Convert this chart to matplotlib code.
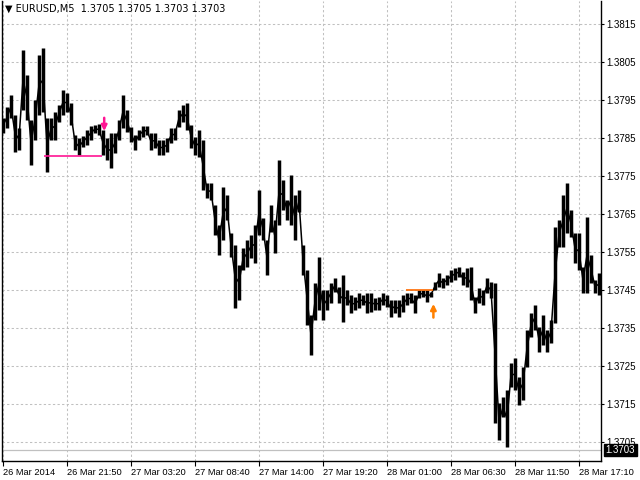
import numpy as np
import matplotlib.pyplot as plt
import matplotlib.transforms as mtransforms

# EURUSD M5 bars (high / low)
highs = [1.37903, 1.37932, 1.37963, 1.37911, 1.37876, 1.38082, 1.38016, 1.37897, 1.37950, 1.38068,
         1.38087, 1.37903, 1.37903, 1.37918, 1.37937, 1.37976, 1.37968, 1.37942, 1.37858, 1.37850,
         1.37855, 1.37871, 1.37882, 1.37884, 1.37887, 1.37871, 1.37850, 1.37863, 1.37863, 1.37897,
         1.37963, 1.37924, 1.37879, 1.37858, 1.37871, 1.37882, 1.37882,
         1.37863, 1.37863, 1.37845, 1.37845, 1.37850, 1.37876, 1.37876, 1.37924, 1.37937, 1.37942,
         1.37884, 1.37853, 1.37871, 1.37845, 1.37732, 1.37732, 1.37674, 1.37621, 1.37721, 1.37700,
         1.37600, 1.37569, 1.37516, 1.37561, 1.37582, 1.37595, 1.37621, 1.37713, 1.37640, 1.37582,
         1.37674, 1.37634, 1.37792, 1.37740, 1.37687, 1.37753, 1.37700, 1.37713,
         1.37569, 1.37503, 1.37385, 1.37469, 1.37537, 1.37450, 1.37450, 1.37469, 1.37482, 1.37458,
         1.37490, 1.37450, 1.37437, 1.37432, 1.37442, 1.37437, 1.37442, 1.37442, 1.37429, 1.37432,
         1.37442, 1.37437, 1.37424, 1.37424, 1.37424, 1.37437, 1.37442, 1.37442, 1.37437, 1.37450,
         1.37450, 1.37450, 1.37445, 1.37471, 1.37495, 1.37482, 1.37490,
         1.37503, 1.37508, 1.37511, 1.37498, 1.37508, 1.37511, 1.37432, 1.37456, 1.37450, 1.37482,
         1.37471, 1.37469, 1.37153, 1.37169, 1.37187, 1.37258, 1.37272, 1.37222, 1.37248, 1.37345,
         1.37390, 1.37411, 1.37353, 1.37385, 1.37345, 1.37371, 1.37616, 1.37634, 1.37700, 1.37732,
         1.37661, 1.37600, 1.37600, 1.37511, 1.37642, 1.37542, 1.37477, 1.37495]
lows = [1.37863, 1.37876, 1.37903, 1.37813, 1.37819, 1.37924, 1.37897, 1.37779, 1.37845, 1.37911,
        1.37918, 1.37761, 1.37845, 1.37845, 1.37892, 1.37911, 1.37918, 1.37884, 1.37819, 1.37805,
        1.37826, 1.37832, 1.37845, 1.37863, 1.37858, 1.37805, 1.37792, 1.37771, 1.37811, 1.37845,
        1.37876, 1.37866, 1.37840, 1.37819, 1.37845, 1.37853, 1.37858,
        1.37819, 1.37824, 1.37805, 1.37805, 1.37813, 1.37837, 1.37845, 1.37879, 1.37892, 1.37871,
        1.37824, 1.37805, 1.37800, 1.37713, 1.37692, 1.37687, 1.37595, 1.37542, 1.37582, 1.37634,
        1.37537, 1.37403, 1.37424, 1.37503, 1.37511, 1.37535, 1.37521, 1.37595, 1.37582, 1.37490,
        1.37603, 1.37548, 1.37621, 1.37661, 1.37634, 1.37621, 1.37582, 1.37655,
        1.37490, 1.37358, 1.37279, 1.37371, 1.37398, 1.37371, 1.37398, 1.37416, 1.37445, 1.37416,
        1.37366, 1.37411, 1.37390, 1.37398, 1.37403, 1.37411, 1.37390, 1.37392, 1.37398, 1.37398,
        1.37411, 1.37406, 1.37379, 1.37390, 1.37379, 1.37392, 1.37411, 1.37416, 1.37390, 1.37429,
        1.37432, 1.37419, 1.37432, 1.37450, 1.37458, 1.37456, 1.37463,
        1.37471, 1.37477, 1.37485, 1.37463, 1.37458, 1.37424, 1.37390, 1.37416, 1.37411, 1.37442,
        1.37429, 1.37101, 1.37056, 1.37116, 1.37037, 1.37195, 1.37187, 1.37148, 1.37161, 1.37248,
        1.37327, 1.37345, 1.37287, 1.37306, 1.37287, 1.37311, 1.37364, 1.37563, 1.37563, 1.37600,
        1.37590, 1.37521, 1.37503, 1.37442, 1.37442, 1.37469, 1.37442, 1.37437]

time_labels = ['26 Mar 2014', '26 Mar 21:50', '27 Mar 03:20', '27 Mar 08:40', '27 Mar 14:00',
               '27 Mar 19:20', '28 Mar 01:00', '28 Mar 06:30', '28 Mar 11:50', '28 Mar 17:10']
price_ticks = [1.3705, 1.3715, 1.3725, 1.3735, 1.3745, 1.3755, 1.3765,
               1.3775, 1.3785, 1.3795, 1.3805, 1.3815]
bid = 1.3703

# objects drawn on the chart
sell_level, sell_start, sell_end = 1.37803, 10.25, 24.75
sell_arrow_x, sell_arrow_top, sell_arrow_tip = 25.3, 1.37903, 1.37868
buy_level, buy_start, buy_end = 1.37450, 100.75, 107.5
buy_arrow_x, buy_arrow_tail, buy_arrow_tip = 107.6, 1.37378, 1.37414

plt.rcParams['font.family'] = ['Liberation Sans', 'DejaVu Sans']

fig = plt.figure(figsize=(6.4, 4.8), dpi=100)
ax = fig.add_axes([2 / 640, 19 / 480, 599 / 640, 460 / 480])

bars = np.arange(len(highs))
mids = (np.array(highs) + np.array(lows)) / 2
ax.vlines(bars, lows, highs, color='black', lw=2.5)
ax.plot(bars, mids, color='black', lw=1.1)

ax.set_xlim(-0.25, 149.5)
ax.set_ylim(1.37001, 1.38210)

ax.grid(color='#c0c0c0', linestyle=(0, (2.2, 2.2)), lw=0.75)
ax.set_axisbelow(True)
ax.axhline(bid, color='#c0c0c0', lw=0.9, zorder=1)

# levels and arrows
ax.hlines(sell_level, sell_start, sell_end, color='#ff1493', lw=1.2)
ax.annotate('', xy=(sell_arrow_x, sell_arrow_tip), xytext=(sell_arrow_x, sell_arrow_top),
            arrowprops=dict(arrowstyle='-|>', color='#ff1493', lw=1.8, mutation_scale=8,
                            shrinkA=0, shrinkB=0))
ax.hlines(buy_level, buy_start, buy_end, color='#ff6a00', lw=1.2)
ax.annotate('', xy=(buy_arrow_x, buy_arrow_tip), xytext=(buy_arrow_x, buy_arrow_tail),
            arrowprops=dict(arrowstyle='-|>', color='#ff8000', lw=1.8, mutation_scale=8,
                            shrinkA=0, shrinkB=0))

ax.yaxis.tick_right()
ax.set_yticks(price_ticks)
ax.set_yticklabels([f'{p:.4f}' for p in price_ticks])
ax.set_xticks(np.arange(0, 16 * len(time_labels), 16))
ax.set_xticklabels(time_labels)
for lbl in ax.get_xticklabels():
    lbl.set_ha('left')
ax.tick_params(axis='x', length=3.5, width=0.8, pad=1.5, labelsize=6.7, colors='black')
ax.tick_params(axis='y', length=2.5, width=0.8, pad=1.5, labelsize=7, colors='black')

ax.spines['top'].set_visible(False)
for s in ['left', 'right', 'bottom']:
    ax.spines[s].set_linewidth(1.0)

# current bid label on the price scale
trans = mtransforms.blended_transform_factory(ax.transAxes, ax.transData)
ax.text(1.008, bid, '1.3703', transform=trans, color='white', fontsize=7, va='center', ha='left',
        bbox=dict(boxstyle='square,pad=0.15', fc='black', ec='black'), clip_on=False, zorder=5)

fig.text(5 / 640, 1 - 9 / 480, '\u25bc EURUSD,M5  1.3705 1.3705 1.3703 1.3703',
         fontsize=7, va='center', ha='left', family=['DejaVu Sans'])

fig.savefig('out.png', dpi=100)
